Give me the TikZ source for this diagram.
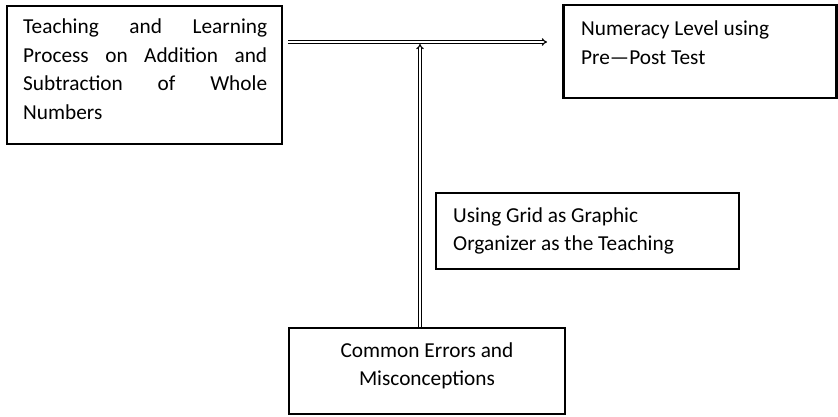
\documentclass[tikz,border=0pt]{standalone}
\usepackage{fontspec}
\setmainfont{Carlito}
\usetikzlibrary{arrows.meta}
\begin{document}
\begin{tikzpicture}[x=1pt,y=-1pt,
  box/.style={draw=black,line width=2.6pt,rectangle,inner sep=0pt},
  txt/.style={inner sep=0pt,font=\fontsize{21.3}{28.5}\selectfont,align=left},
  dbl/.style={double=white,double distance=1.3pt,line width=1.1pt,-{Implies[length=4pt,width=7pt]}}]
\useasboundingbox (0,0) rectangle (838,417);
\node[box,minimum width=275pt,minimum height=138pt] (b1) at (144.5,75) {};
\node[box,minimum width=273pt,minimum height=93pt] (b2) at (700,51.5) {};
\node[box,minimum width=303pt,minimum height=76pt] (b3) at (587.5,231) {};
\node[box,minimum width=276pt,minimum height=86pt] (b4) at (427,371) {};
\node[txt,anchor=base west] (t1) at (23,119.5)
 {\makebox[244pt][s]{Teaching and Learning}\\
  \makebox[244pt][s]{Process on Addition and}\\
  \makebox[244pt][s]{Subtraction of Whole}\\
  Numbers};
\node[txt,anchor=base west] (t2) at (581,64.5) {Numeracy Level using\\Pre—Post Test};
\node[txt,anchor=base west] (t3) at (453,250.5) {Using Grid as Graphic\\Organizer as the Teaching};
\node[txt,align=center,anchor=base] (t4) at (427,385.5) {Common Errors and\\Misconceptions};
\coordinate (hs) at (288,42);
\coordinate (he) at (547,42);
\coordinate (vs) at (420,327);
\coordinate (ve) at (420,44);
\draw[dbl] (hs) -- (he);
\draw[dbl] (vs) -- (ve);
\end{tikzpicture}
\end{document}
